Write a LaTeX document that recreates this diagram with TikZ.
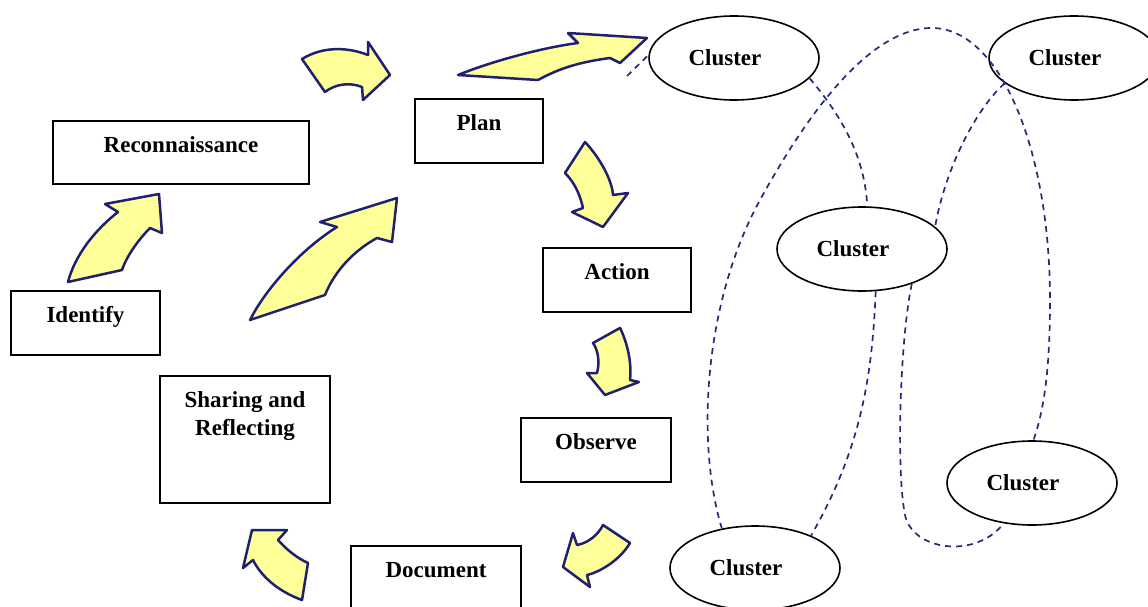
\documentclass[tikz,border=0pt]{standalone}
\usepackage{fontspec}
\setmainfont{Liberation Serif}
\usetikzlibrary{shapes.geometric}
\definecolor{navy}{RGB}{32,32,112}
\definecolor{dashnavy}{RGB}{40,40,125}
\definecolor{paleyellow}{RGB}{255,255,153}
\begin{document}
\begin{tikzpicture}[x=1pt,y=-1pt,
  stagebox/.style={draw=black, line width=1.4pt, rectangle, inner sep=0pt},
  steplabel/.style={anchor=base, font=\bfseries\fontsize{23}{28}\selectfont, inner sep=0pt, align=center},
  cluster/.style={draw=black, line width=1.6pt, ellipse, minimum width=170pt, minimum height=84pt, inner sep=0pt,
    label={[font=\bfseries\fontsize{23}{28}\selectfont, inner sep=0pt, xshift=-9pt]center:Cluster}},
  blockarrow/.style={fill=paleyellow, draw=navy, line width=2.5pt, line join=round},
  dashline/.style={draw=dashnavy, line width=1.7pt, dash pattern=on 6pt off 5pt}]
\useasboundingbox (0,0) rectangle (1148,607);

% stage boxes
\node[stagebox, minimum width=256pt, minimum height=63pt] (recon) at (181,152.5) {};
\node[stagebox, minimum width=128pt, minimum height=64pt] (plan) at (479,131) {};
\node[stagebox, minimum width=148pt, minimum height=64pt] (action) at (617,280) {};
\node[stagebox, minimum width=149pt, minimum height=64pt] (identify) at (85.5,323) {};
\node[stagebox, minimum width=150pt, minimum height=64pt] (observe) at (596,450) {};
\node[stagebox, minimum width=170pt, minimum height=127pt] (share) at (245,439.5) {};
\node[stagebox, minimum width=170pt, minimum height=64pt] (document) at (436,578) {};

\node[steplabel] at ([yshift=-32pt]recon.north) {Reconnaissance};
\node[steplabel] at ([yshift=-32pt]plan.north) {Plan};
\node[steplabel] at ([yshift=-32pt]action.north) {Action};
\node[steplabel] at ([yshift=-32pt]identify.north) {Identify};
\node[steplabel] at ([yshift=-32pt]observe.north) {Observe};
% the base anchor of a two-line node sits on its last line
\node[steplabel] at ([yshift=-60pt]share.north) {Sharing and\\Reflecting};
\node[steplabel] at ([yshift=-32pt]document.north) {Document};

% clusters
\node[cluster] (c1) at (734,58) {};
\node[cluster] (c2) at (1074,58) {};
\node[cluster] (c3) at (862,249) {};
\node[cluster] (c4) at (1032,483) {};
\node[cluster] (c5) at (755,568) {};

% curved block arrows of the cycle
\draw[blockarrow] (302,59) .. controls (325,45) and (350,48) .. (368,55) -- (368,42) -- (390,75)
  -- (363,100) -- (362,87) .. controls (350,82) and (335,84) .. (325,92) -- cycle;
\draw[blockarrow] (458,75) .. controls (490,62) and (540,48) .. (578,43) -- (568,33) -- (647,38)
  -- (620,63) -- (610,58) .. controls (580,62) and (560,68) .. (538,80) -- cycle;
\draw[blockarrow] (585,142) .. controls (600,158) and (612,180) .. (613,195) -- (628,193) -- (603,227)
  -- (572,212) -- (583,208) .. controls (580,195) and (575,183) .. (565,173) -- cycle;
\draw[blockarrow] (620,328) .. controls (627,342) and (632,362) .. (630,380) -- (639,382) -- (605,395)
  -- (587,373) -- (597,373) .. controls (600,362) and (598,350) .. (593,343) -- cycle;
\draw[blockarrow] (603,525) -- (630,543) .. controls (620,560) and (600,572) .. (587,575) -- (590,587)
  -- (563,567) -- (573,533) -- (577,545) .. controls (588,543) and (598,535) .. (603,525) -- cycle;
\draw[blockarrow] (308,563) -- (302,600) .. controls (280,592) and (262,578) .. (253,560) -- (243,568)
  -- (252,530) -- (287,530) -- (278,540) .. controls (287,550) and (297,558) .. (308,563) -- cycle;
\draw[blockarrow] (68,282) -- (122,270) .. controls (127,255) and (140,238) .. (150,228) -- (162,233)
  -- (159,194) -- (105,204) -- (118,212) .. controls (95,230) and (75,255) .. (68,282) -- cycle;
\draw[blockarrow] (250,320) -- (325,295) .. controls (335,270) and (355,250) .. (377,238) -- (392,242)
  -- (397,198) -- (320,222) -- (337,227) .. controls (300,250) and (265,290) .. (250,320) -- cycle;

% dashed links between clusters
\coordinate (plantip) at (627,76);
\draw[dashline] (plantip) -- (c1.178);
\draw[dashline] (c5.130) .. controls (695,440) and (705,300) .. (760,200)
  .. controls (793,140) and (860,30) .. (930,28)
  .. controls (1000,26) and (1050,150) .. (1050,300)
  .. controls (1050,380) and (1042,415) .. (c4.88);
\draw[dashline] (c1.-15) .. controls (845,120) and (865,160) .. (c3.83);
\draw[dashline] (c2.200) .. controls (975,110) and (945,170) .. (c3.17);
\draw[dashline] (c3.-72) .. controls (872,380) and (860,450) .. (c5.30);
\draw[dashline] (c3.-35) .. controls (900,340) and (896,470) .. (905,515)
  .. controls (912,550) and (975,560) .. (c4.235);
\end{tikzpicture}
\end{document}
